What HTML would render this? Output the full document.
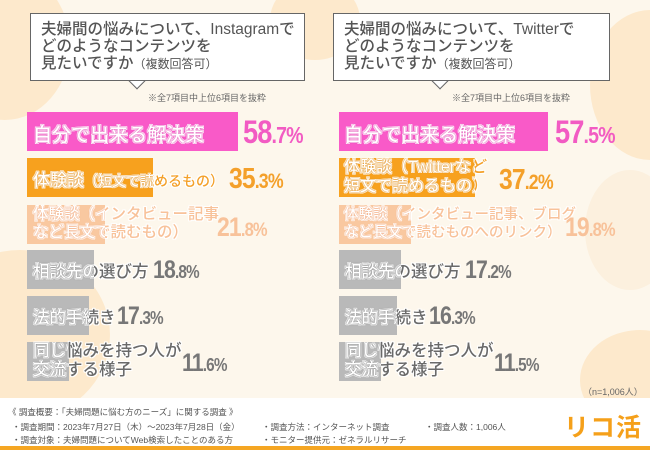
<!DOCTYPE html>
<html><head><meta charset="utf-8"><style>
*{margin:0;padding:0;box-sizing:border-box}
body{width:650px;height:450px;overflow:hidden;background:#fdf7ec;position:relative;font-family:"Liberation Sans","Noto Sans CJK JP",sans-serif}
.a{position:absolute}
.circ{position:absolute;border-radius:50%;background:#fde9cc}
.box{position:absolute;background:#fff;border:1px solid #666;font-size:15.5px;line-height:17px;color:#555;padding:7px 0 0 10px;font-weight:500}
.box small{font-size:12px;font-weight:normal}
.tri{position:absolute;width:12px;height:12px;background:#fff;border-right:1px solid #666;border-bottom:1px solid #666;transform:rotate(45deg)}
.note{position:absolute;font-size:9px;color:#666}
.bar{position:absolute;height:39px}
.lbl{position:absolute;font-weight:500;white-space:nowrap;text-shadow:-1px -1px 0 #fff,1px -1px 0 #fff,-1px 1px 0 #fff,1px 1px 0 #fff,0 1px 0 #fff,0 -1px 0 #fff,1px 0 0 #fff,-1px 0 0 #fff}
.clip{position:absolute;overflow:hidden;height:42px}
.clip .lbl{left:0;top:0;color:#fff!important}
.pct{position:absolute;font-weight:bold;white-space:nowrap;letter-spacing:-1px;transform:scaleX(0.85);transform-origin:left top}
.pct span{font-size:0.72em}
.foot{position:absolute;left:0;top:398px;width:650px;height:48px;background:#fff}
.ft{position:absolute;font-size:8.5px;color:#555;white-space:nowrap}
</style></head><body>
<div class="circ" style="left:-60px;top:-30px;width:130px;height:150px"></div>
<div class="circ" style="left:270px;top:-20px;width:90px;height:80px"></div>
<div class="circ" style="left:590px;top:10px;width:120px;height:150px"></div>
<div class="circ" style="left:-70px;top:250px;width:180px;height:170px"></div>
<div class="circ" style="left:580px;top:330px;width:120px;height:100px"></div>
<div class="circ" style="left:585px;top:170px;width:90px;height:120px;background:#fcf0de"></div>

<div class="tri" style="left:131px;top:75px"></div>
<div class="tri" style="left:434px;top:75px"></div>
<div class="box" style="left:30px;top:13px;width:275px;height:68px">夫婦間の悩みについて、Instagramで<br>どのようなコンテンツを<br>見たいですか<small>（複数回答可）</small></div>
<div class="box" style="left:333px;top:13px;width:277px;height:68px">夫婦間の悩みについて、Twitterで<br>どのようなコンテンツを<br>見たいですか<small>（複数回答可）</small></div>
<div class="note" style="left:148px;top:91px">※全7項目中上位6項目を抜粋</div>
<div class="note" style="left:452px;top:91px">※全7項目中上位6項目を抜粋</div>

<!-- left -->
<div class="bar" style="left:27px;top:112px;width:211px;background:#f95ac8"></div>
<div class="lbl" style="left:33px;top:120px;font-size:19px;color:#f95ac8">自分で出来る解決策</div>
<div class="clip" style="left:33px;top:120px;width:205px"><div class="lbl" style="font-size:19px;text-shadow:0 0 2px #e040b0,0 0 1px #e040b0">自分で出来る解決策</div></div>
<div class="pct" style="left:243px;top:114px;font-size:32px;color:#f25bc3">58<span>.7%</span></div>

<div class="bar" style="left:27px;top:158px;width:126px;background:#f7a11e"></div>
<div class="lbl" style="left:33px;top:166px;font-size:17px;color:#f4a12a">体験談<span style="font-size:14px">（短文で読めるもの）</span></div>
<div class="clip" style="left:33px;top:166px;width:120px"><div class="lbl" style="font-size:17px;text-shadow:0 0 2px #e08a10,0 0 1px #e08a10">体験談<span style="font-size:14px">（短文で読めるもの）</span></div></div>
<div class="pct" style="left:229px;top:163px;font-size:29px;color:#f4a02a">35<span>.3%</span></div>

<div class="bar" style="left:27px;top:205px;width:78px;background:#f9c8a0"></div>
<div class="lbl" style="left:33px;top:206px;font-size:15.5px;line-height:18px;color:#f8c29a">体験談（インタビュー記事<br>など長文で読むもの）</div>
<div class="clip" style="left:33px;top:206px;width:72px"><div class="lbl" style="font-size:15.5px;line-height:18px;text-shadow:0 0 2px #f0a070,0 0 1px #f0a070">体験談（インタビュー記事<br>など長文で読むもの）</div></div>
<div class="pct" style="left:217px;top:212px;font-size:27px;color:#f8c29a">21<span>.8%</span></div>

<div class="bar" style="left:27px;top:250px;width:67px;background:#b9b9b9"></div>
<div class="lbl" style="left:33px;top:258px;font-size:16.5px;color:#6a6a6a">相談先の選び方</div>
<div class="clip" style="left:33px;top:258px;width:61px"><div class="lbl" style="font-size:16.5px;text-shadow:0 0 2px #777,0 0 1px #777">相談先の選び方</div></div>
<div class="pct" style="left:153px;top:256px;font-size:25px;color:#777">18<span>.8%</span></div>

<div class="bar" style="left:27px;top:296px;width:62px;background:#b9b9b9"></div>
<div class="lbl" style="left:33px;top:304px;font-size:16.5px;color:#6a6a6a">法的手続き</div>
<div class="clip" style="left:33px;top:304px;width:56px"><div class="lbl" style="font-size:16.5px;text-shadow:0 0 2px #777,0 0 1px #777">法的手続き</div></div>
<div class="pct" style="left:117px;top:302px;font-size:25px;color:#777">17<span>.3%</span></div>

<div class="bar" style="left:27px;top:342px;width:42px;background:#b9b9b9"></div>
<div class="lbl" style="left:33px;top:342px;font-size:16.5px;line-height:19px;color:#6a6a6a">同じ悩みを持つ人が<br>交流する様子</div>
<div class="clip" style="left:33px;top:342px;width:36px"><div class="lbl" style="font-size:16.5px;line-height:19px;text-shadow:0 0 2px #777,0 0 1px #777">同じ悩みを持つ人が<br>交流する様子</div></div>
<div class="pct" style="left:182px;top:349px;font-size:25px;color:#777">11<span>.6%</span></div>

<!-- right -->
<div class="bar" style="left:339px;top:112px;width:209px;background:#f95ac8"></div>
<div class="lbl" style="left:344px;top:120px;font-size:19px;color:#f95ac8">自分で出来る解決策</div>
<div class="clip" style="left:344px;top:120px;width:204px"><div class="lbl" style="font-size:19px;text-shadow:0 0 2px #e040b0,0 0 1px #e040b0">自分で出来る解決策</div></div>
<div class="pct" style="left:555px;top:114px;font-size:32px;color:#f25bc3">57<span>.5%</span></div>

<div class="bar" style="left:339px;top:158px;width:136px;background:#f7a11e"></div>
<div class="lbl" style="left:344px;top:158px;font-size:16px;line-height:19px;color:#f4a12a">体験談（Twitterなど<br>短文で読めるもの）</div>
<div class="clip" style="left:344px;top:158px;width:131px"><div class="lbl" style="font-size:16px;line-height:19px;text-shadow:0 0 2px #e08a10,0 0 1px #e08a10">体験談（Twitterなど<br>短文で読めるもの）</div></div>
<div class="pct" style="left:499px;top:164px;font-size:29px;color:#f4a02a">37<span>.2%</span></div>

<div class="bar" style="left:339px;top:205px;width:72px;background:#f9c8a0"></div>
<div class="lbl" style="left:344px;top:206px;font-size:14.5px;line-height:18px;color:#f8c29a">体験談（インタビュー記事、ブログ<br>など長文で読むものへのリンク）</div>
<div class="clip" style="left:344px;top:206px;width:67px"><div class="lbl" style="font-size:14.5px;line-height:18px;text-shadow:0 0 2px #f0a070,0 0 1px #f0a070">体験談（インタビュー記事、ブログ<br>など長文で読むものへのリンク）</div></div>
<div class="pct" style="left:565px;top:212px;font-size:27px;color:#f8c29a">19<span>.8%</span></div>

<div class="bar" style="left:339px;top:250px;width:62px;background:#b9b9b9"></div>
<div class="lbl" style="left:345px;top:258px;font-size:16.5px;color:#6a6a6a">相談先の選び方</div>
<div class="clip" style="left:345px;top:258px;width:56px"><div class="lbl" style="font-size:16.5px;text-shadow:0 0 2px #777,0 0 1px #777">相談先の選び方</div></div>
<div class="pct" style="left:465px;top:256px;font-size:25px;color:#777">17<span>.2%</span></div>

<div class="bar" style="left:339px;top:296px;width:58px;background:#b9b9b9"></div>
<div class="lbl" style="left:345px;top:304px;font-size:16.5px;color:#6a6a6a">法的手続き</div>
<div class="clip" style="left:345px;top:304px;width:52px"><div class="lbl" style="font-size:16.5px;text-shadow:0 0 2px #777,0 0 1px #777">法的手続き</div></div>
<div class="pct" style="left:429px;top:302px;font-size:25px;color:#777">16<span>.3%</span></div>

<div class="bar" style="left:339px;top:342px;width:42px;background:#b9b9b9"></div>
<div class="lbl" style="left:345px;top:342px;font-size:16.5px;line-height:19px;color:#6a6a6a">同じ悩みを持つ人が<br>交流する様子</div>
<div class="clip" style="left:345px;top:342px;width:36px"><div class="lbl" style="font-size:16.5px;line-height:19px;text-shadow:0 0 2px #777,0 0 1px #777">同じ悩みを持つ人が<br>交流する様子</div></div>
<div class="pct" style="left:494px;top:349px;font-size:25px;color:#777">11<span>.5%</span></div>

<div class="note" style="left:583px;top:385px;font-size:9px">（n=1,006人）</div>

<div class="foot"></div>
<div class="a" style="left:0;top:446px;width:650px;height:4px;background:#f5a623"></div>
<div class="ft" style="left:8px;top:406px">《 調査概要：「夫婦問題に悩む方のニーズ」に関する調査 》</div>
<div class="ft" style="left:12px;top:421px">・調査期間：2023年7月27日（木）～2023年7月28日（金）</div>
<div class="ft" style="left:12px;top:434px">・調査対象：夫婦問題についてWeb検索したことのある方</div>
<div class="ft" style="left:262px;top:421px">・調査方法：インターネット調査</div>
<div class="ft" style="left:262px;top:434px">・モニター提供元：ゼネラルリサーチ</div>
<div class="ft" style="left:425px;top:421px">・調査人数：1,006人</div>
<div class="a" style="left:564px;top:408px;font-size:25px;font-weight:bold;color:#f5a01a;letter-spacing:1px">リコ活</div>
</body></html>
